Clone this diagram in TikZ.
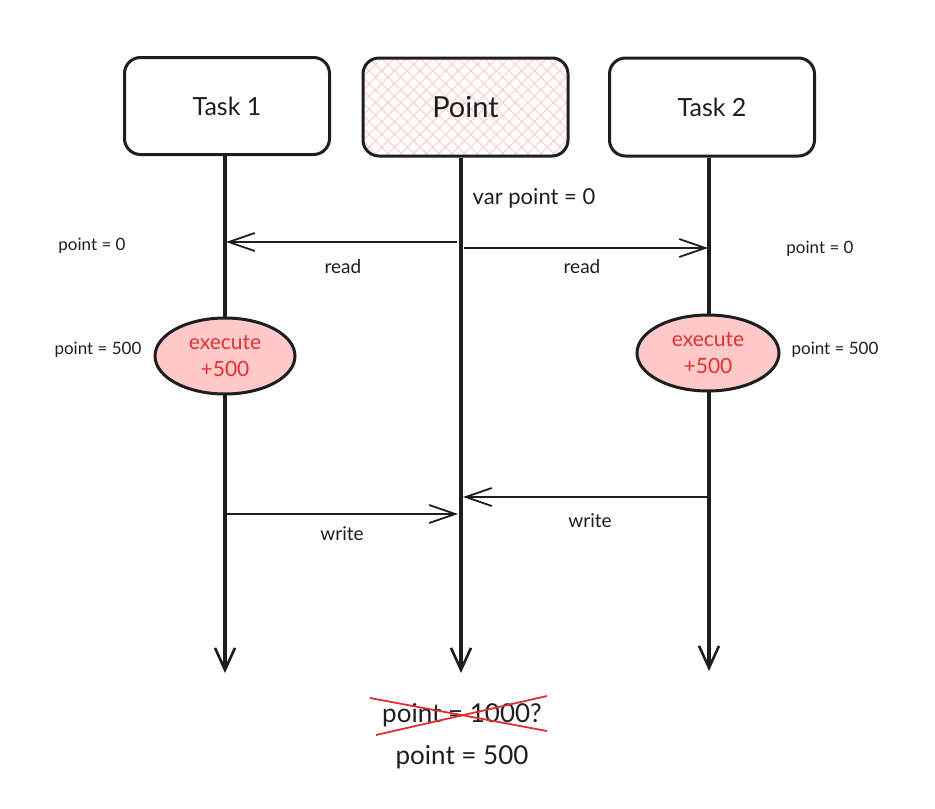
\documentclass[tikz,border=0pt]{standalone}
\usepackage{fontspec}
\setmainfont{Lato}
\usetikzlibrary{arrows.meta,shapes.geometric,patterns.meta}
\definecolor{inkc}{HTML}{1E1E1E}
\definecolor{pinkf}{HTML}{FFC9C9}
\definecolor{redt}{HTML}{E03131}
\tikzset{
  box/.style={draw=inkc,line width=3pt,rounded corners=16pt,minimum width=205pt,minimum height=97pt,font=\fontsize{25}{28}\selectfont,text=inkc},
  life/.style={draw=inkc,line width=3.4pt,-{Straight Barb[length=22pt,width=20pt,line width=2.6pt]}},
  msg/.style={draw=inkc,line width=1.8pt,-{Straight Barb[length=26pt,width=18pt,line width=1.8pt]}},
  exec/.style={ellipse,draw=inkc,line width=3pt,fill=pinkf,minimum width=140pt,minimum height=76pt,text=redt,align=center,font=\fontsize{21}{27}\selectfont},
  small/.style={font=\fontsize{17}{20}\selectfont,text=inkc},
  lbl/.style={font=\fontsize{19}{22}\selectfont,text=inkc},
  mid/.style={font=\fontsize{22}{26}\selectfont,text=inkc}
}
\begin{document}
\begin{tikzpicture}[x=1pt,y=-1pt]
\path[fill=white,use as bounding box] (0,0) rectangle (935,809);
% boxes
\node[box] (t1) at (227,106) {Task 1};
\path[pattern={Hatch[angle=45,distance=9pt,line width=0.9pt]},pattern color=pinkf,rounded corners=16pt] (363,58) rectangle (568,156);
\node[box,minimum height=98pt,font=\fontsize{29}{32}\selectfont] (pt) at (465.5,107) {Point};
\node[box,minimum height=98pt] (t2) at (712,107) {Task 2};
% lifeline ends
\coordinate (e1) at (225,673);
\coordinate (e2) at (461,673);
\coordinate (e3) at (709,671);
\draw[life] (t1.south -| e1) -- (e1);
\draw[life] (pt.south -| e2) -- (e2);
\draw[life] (t2.south -| e3) -- (e3);
% execution ellipses
\node[exec] (x1) at (225,356) {execute\\+500};
\node[exec,minimum width=142pt] (x2) at (708,353) {execute\\+500};
% messages
\coordinate (r1s) at (457,242); \coordinate (r1e) at (226,242);
\coordinate (r2s) at (464,248); \coordinate (r2e) at (708,248);
\coordinate (w1s) at (226,514); \coordinate (w1e) at (458,514);
\coordinate (w2s) at (708,497); \coordinate (w2e) at (463,497);
\draw[msg] (r1s) -- (r1e);
\draw[msg] (r2s) -- (r2e);
\draw[msg] (w1s) -- (w1e);
\draw[msg] (w2s) -- (w2e);
% labels
\node[lbl] (lr1) at (343,267) {read};
\node[lbl] (lr2) at (582,267) {read};
\node[lbl] (lw1) at (342,534) {write};
\node[lbl] (lw2) at (590,521) {write};
\node[mid] (vp) at (534,198) {var point = 0};
\node[small] (p0a) at (92,246) {point = 0};
\node[small] (p0b) at (820,249) {point = 0};
\node[small] (p5a) at (98,350) {point = 500};
\node[small] (p5b) at (835,350) {point = 500};
% result
\node[mid,font=\fontsize{26}{30}\selectfont] (wrong) at (462,715) {point = 1000?};
\node[mid,font=\fontsize{26}{30}\selectfont] (right) at (462,757) {point = 500};
\coordinate (c1) at (370,698); \coordinate (c2) at (547,731);
\coordinate (c3) at (376,735); \coordinate (c4) at (547,696);
\draw[redt,line width=1.8pt] (c1) -- (c2);
\draw[redt,line width=1.8pt] (c3) -- (c4);
\end{tikzpicture}
\end{document}
